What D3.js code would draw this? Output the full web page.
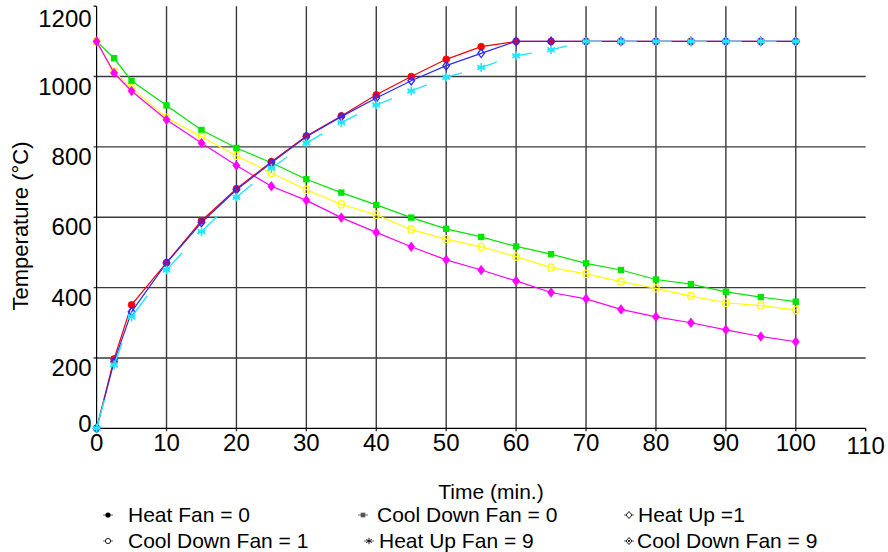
<!DOCTYPE html>
<html>
<head>
<meta charset="utf-8">
<script src="https://cdn.jsdelivr.net/npm/d3@7"></script>
<style>
  html, body { margin: 0; padding: 0; background: #fff; }
  svg { display: block; }
  text { font-family: "Liberation Sans", Arial, sans-serif; fill: #000; }
</style>
</head>
<body>
<svg id="chart" width="888" height="552"></svg>
<script>
// ---------------- data ----------------
const times = [0, 2.5, 5, 10, 15, 20, 25, 30, 35, 40, 45, 50, 55, 60, 65, 70, 75, 80, 85, 90, 95, 100];
const heatFan0   = [0, 197, 351, 471, 590, 681, 758, 831, 888, 948, 1000, 1049, 1085, 1100, 1100, 1100, 1100, 1100, 1100, 1100, 1100, 1100];
const heatUp1    = [0, 189, 331, 470, 585, 678, 755, 829, 886, 939, 988, 1031, 1066, 1100, 1100, 1100, 1100, 1100, 1100, 1100, 1100, 1100];
const heatUpFan9 = [0, 180, 317, 450, 559, 657, 739, 811, 869, 919, 959, 998, 1026, 1059, 1076, 1100, 1100, 1100, 1100, 1100, 1100, 1100];
const coolFan0   = [1100, 1052, 988, 918, 848, 797, 755, 708, 670, 635, 599, 567, 544, 517, 495, 469, 450, 423, 410, 388, 373, 360];
const coolFan1   = [1100, 1014, 967, 883, 829, 775, 726, 678, 637, 607, 565, 538, 516, 488, 457, 439, 417, 398, 376, 357, 349, 336];
const coolFan9   = [1100, 1010, 959, 877, 811, 747, 688, 648, 599, 557, 516, 479, 450, 419, 386, 368, 338, 317, 300, 280, 261, 246];
const xTicks = [0, 10, 20, 30, 40, 50, 60, 70, 80, 90, 100, 110];
const yTicks = [0, 200, 400, 600, 800, 1000, 1200];
const legendNames = ["Heat Fan = 0", "Cool Down Fan = 0", "Heat Up =1", "Cool Down Fan = 1", "Heat Up Fan = 9", "Cool Down Fan = 9"];

// ---------------- setup ----------------
const svg = d3.select("#chart");
const x = d3.scaleLinear().domain([0, 110]).range([96.6, 865.7]);
const y = d3.scaleLinear().domain([0, 1200]).range([428.3, 6.2]);

// gridlines
const grid = svg.append("g");
grid.selectAll(".vg").data(xTicks.filter(d => d > 0 && d < 110)).join("line")
  .attr("x1", d => x(d)).attr("x2", d => x(d))
  .attr("y1", y(1200)).attr("y2", y(0) + 3)
  .attr("stroke", "#3a3a3a").attr("stroke-width", 1.4);
grid.selectAll(".hg").data(yTicks.filter(d => d > 0 && d < 1200)).join("line")
  .attr("x1", x(0) - 3).attr("x2", x(110))
  .attr("y1", d => y(d)).attr("y2", d => y(d))
  .attr("stroke", "#3a3a3a").attr("stroke-width", 1.4);

// axes
const axes = svg.append("g");
axes.append("line").attr("x1", x(0)).attr("x2", x(0)).attr("y1", y(1200)).attr("y2", y(0))
  .attr("stroke", "#000").attr("stroke-width", 1.2);
axes.append("line").attr("x1", x(0)).attr("x2", x(110)).attr("y1", y(0)).attr("y2", y(0))
  .attr("stroke", "#000").attr("stroke-width", 1.2);
axes.append("line").attr("x1", x(110)).attr("x2", x(110)).attr("y1", y(0)).attr("y2", y(0) + 3)
  .attr("stroke", "#000").attr("stroke-width", 1.2);
axes.append("line").attr("x1", x(0) - 3).attr("x2", x(0)).attr("y1", y(1200)).attr("y2", y(1200))
  .attr("stroke", "#000").attr("stroke-width", 1.2);

// tick labels
axes.selectAll(".xl").data(xTicks).join("text")
  .attr("x", d => x(d)).attr("y", d => y(0) + (d === 110 ? 26 : 23))
  .attr("text-anchor", "middle").attr("font-size", 24).text(d => d);
axes.selectAll(".yl").data(yTicks).join("text")
  .attr("x", x(0) - 5).attr("y", d => y(d) + (d === 0 ? 4 : (d === 1200 ? 21 : 18)))
  .attr("text-anchor", "end").attr("font-size", 24).text(d => d);

// axis titles
svg.append("text").attr("x", 491).attr("y", 499).attr("text-anchor", "middle")
  .attr("font-size", 21).text("Time (min.)");
svg.append("text").attr("transform", "translate(28,226) rotate(-90)").attr("text-anchor", "middle")
  .attr("font-size", 22).text("Temperature (°C)");

// ---------------- series ----------------
const line = d3.line().x(d => x(d[0])).y(d => y(d[1]));
function pts(vals) { return times.map((t, i) => [t, vals[i]]); }

function drawSeries(vals, color, marker, dashed) {
  const g = svg.append("g");
  const p = pts(vals);
  if (!dashed) {
    g.append("path").attr("d", line(p)).attr("fill", "none").attr("stroke", color).attr("stroke-width", 1.2);
  } else {
    const segs = d3.pairs(p).map(([a, b]) => [a, [a[0] + 0.45 * (b[0] - a[0]), a[1] + 0.45 * (b[1] - a[1])]]);
    g.selectAll("path.seg").data(segs).join("path").attr("d", d => line(d))
      .attr("fill", "none").attr("stroke", color).attr("stroke-width", 1.4);
  }
  const m = g.selectAll("g.m").data(p).join("g").attr("transform", d => `translate(${x(d[0])},${y(d[1])})`);
  marker(m, color);
}

const mk = {
  circleFill: (m, c) => m.append("circle").attr("r", 3.4).attr("fill", c).attr("stroke", c).attr("stroke-width", 0.8),
  circleOpen: (m, c) => m.append("ellipse").attr("rx", 3.2).attr("ry", 3.7).attr("fill", "none").attr("stroke", c).attr("stroke-width", 1.2),
  square: (m, c) => m.append("rect").attr("x", -3.2).attr("y", -3.2).attr("width", 6.4).attr("height", 6.4).attr("fill", c),
  diamondFill: (m, c) => m.append("path").attr("d", "M0,-4.8L3.6,0L0,4.8L-3.6,0Z").attr("fill", c).attr("stroke", c).attr("stroke-width", 0.6),
  diamondOpen: (m, c) => m.append("path").attr("d", "M0,-4.2L3.3,0L0,4.2L-3.3,0Z").attr("fill", "none").attr("stroke", c).attr("stroke-width", 1.3),
  star: (m, c) => m.append("path").attr("d", "M0,-4.5V4.5M-3.8,-2.3L3.8,2.3M-3.8,2.3L3.8,-2.3M-3.6,0H3.6")
    .attr("fill", "none").attr("stroke", c).attr("stroke-width", 1.6)
};

drawSeries(coolFan0, "#00e600", mk.square, false);
drawSeries(coolFan1, "#ffff00", mk.circleOpen, false);
drawSeries(coolFan9, "#ff00ff", mk.diamondFill, false);
drawSeries(heatFan0, "#ff0000", mk.circleFill, false);
drawSeries(heatUp1, "#2a2aff", mk.diamondOpen, false);
drawSeries(heatUpFan9, "#22e6ff", mk.star, true);

// ---------------- legend ----------------
const legendPos = [
  { sx: 108, tx: 128, ty: 522, sym: "circleFill" },
  { sx: 363, tx: 377, ty: 522, sym: "square" },
  { sx: 629, tx: 638, ty: 522, sym: "diamondOpen" },
  { sx: 108, tx: 128, ty: 548, sym: "circleOpen" },
  { sx: 369, tx: 379, ty: 548, sym: "star" },
  { sx: 629, tx: 637, ty: 548, sym: "diamondDot" }
];
const lg = svg.append("g");
legendPos.forEach((p, i) => {
  const g = lg.append("g").attr("transform", `translate(${p.sx},${p.ty - 7})`);
  g.append("line").attr("x1", -5).attr("x2", 5).attr("stroke", "#666").attr("stroke-width", 1);
  if (p.sym === "circleFill") g.append("circle").attr("r", 2.6).attr("fill", "#000");
  if (p.sym === "square") g.append("rect").attr("x", -2.3).attr("y", -2.3).attr("width", 4.6).attr("height", 4.6).attr("fill", "#555");
  if (p.sym === "diamondOpen") g.append("path").attr("d", "M0,-3.5L3,0L0,3.5L-3,0Z").attr("fill", "#fff").attr("stroke", "#000").attr("stroke-width", 0.9);
  if (p.sym === "circleOpen") g.append("circle").attr("r", 2.6).attr("fill", "#fff").attr("stroke", "#000").attr("stroke-width", 0.9);
  if (p.sym === "star") g.append("path").attr("d", "M0,-3.2V3.2M-2.8,-1.6L2.8,1.6M-2.8,1.6L2.8,-1.6").attr("stroke", "#000").attr("stroke-width", 0.9);
  if (p.sym === "diamondDot") {
    g.append("path").attr("d", "M0,-3.5L3,0L0,3.5L-3,0Z").attr("fill", "#fff").attr("stroke", "#000").attr("stroke-width", 0.9);
    g.append("circle").attr("r", 1.1).attr("fill", "#000");
  }
  lg.append("text").attr("x", p.tx).attr("y", p.ty).attr("font-size", 21).text(legendNames[i]);
});
</script>
</body>
</html>
